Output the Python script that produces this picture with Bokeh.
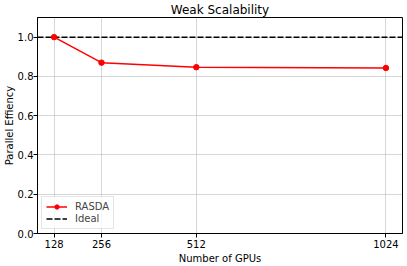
from bokeh.plotting import figure
from bokeh.models import (Range1d, FixedTicker, Legend, LegendItem,
                          NumeralTickFormatter, ColumnDataSource)
from bokeh.embed import file_html
from bokeh.resources import INLINE

# ---- data ----
gpus = [128, 256, 512, 1024]
efficiency = [1.0, 0.870, 0.847, 0.843]
ideal_value = 1.0
x_ticks = [128, 256, 512, 1024]
y_ticks = [0.0, 0.2, 0.4, 0.6, 0.8, 1.0]
title_text = "Weak Scalability"
x_label = "Number of GPUs"
y_label = "Parallel Effiency"
series_name = "RASDA"
ideal_name = "Ideal"

FONT = "DejaVu Sans"
W, H = 407, 266
BL, BR, BT, BB = 36, 5, 17, 31

xspan = max(gpus) - min(gpus)
x_start = min(gpus) - 0.05 * xspan
x_end = max(gpus) + 0.05 * xspan

p = figure(width=W, height=H, output_backend="svg", toolbar_location=None,
           title=title_text,
           x_range=Range1d(x_start, x_end), y_range=Range1d(0, 1.1),
           min_border_left=BL, min_border_right=BR, min_border_top=BT, min_border_bottom=BB)
p.outline_line_color = "black"
p.outline_line_width = 1
p.background_fill_color = "white"
p.border_fill_color = "white"

p.title.align = "center"
p.title.text_font = FONT
p.title.text_font_size = "12px"
p.title.text_font_style = "normal"
p.title.text_color = "black"
p.title.standoff = 1
p.title.offset = 0

src = ColumnDataSource(dict(x=gpus, y=efficiency))
r_ideal = p.line(x=[x_start, x_end], y=[ideal_value, ideal_value], line_color="black",
                 line_width=1.5, line_dash="6 2")
r_line = p.line("x", "y", source=src, line_color="red", line_width=1.5)
r_pts = p.scatter("x", "y", source=src, size=5.5, fill_color="red", line_color="red")

legend = Legend(items=[LegendItem(label=series_name, renderers=[r_line, r_pts]),
                       LegendItem(label=ideal_name, renderers=[r_ideal])],
                location="bottom_left", margin=4, padding=4, spacing=1,
                glyph_width=21, glyph_height=11, label_height=11, label_standoff=8,
                label_text_font=FONT, label_text_font_size="10px",
                border_line_color="#cccccc", border_line_width=1,
                background_fill_color="white", background_fill_alpha=0.8)
p.add_layout(legend)

p.xaxis.ticker = FixedTicker(ticks=x_ticks)
p.yaxis.ticker = FixedTicker(ticks=y_ticks)
p.yaxis.formatter = NumeralTickFormatter(format="0.0")
p.xaxis.axis_label = x_label
p.yaxis.axis_label = y_label
for ax in (p.xaxis[0], p.yaxis[0]):
    ax.major_label_text_font = FONT
    ax.major_label_text_font_size = "10px"
    ax.major_label_text_color = "black"
    ax.major_tick_out = 4
    ax.major_tick_in = 0
    ax.minor_tick_out = 0
    ax.minor_tick_in = 0
    ax.axis_line_color = "black"
    ax.major_tick_line_color = "black"
    ax.axis_label_text_font = FONT
    ax.axis_label_text_font_size = "10px"
    ax.axis_label_text_font_style = "normal"
    ax.axis_label_text_color = "black"
p.xaxis.major_label_standoff = 2
p.xaxis.axis_label_standoff = 2
p.yaxis.major_label_standoff = 0
p.yaxis.axis_label_standoff = 0

for g in (p.xgrid[0], p.ygrid[0]):
    g.grid_line_color = "#b0b0b0"
    g.grid_line_alpha = 0.5
    g.grid_line_width = 1

open("out.html", "w").write(file_html(p, INLINE))
